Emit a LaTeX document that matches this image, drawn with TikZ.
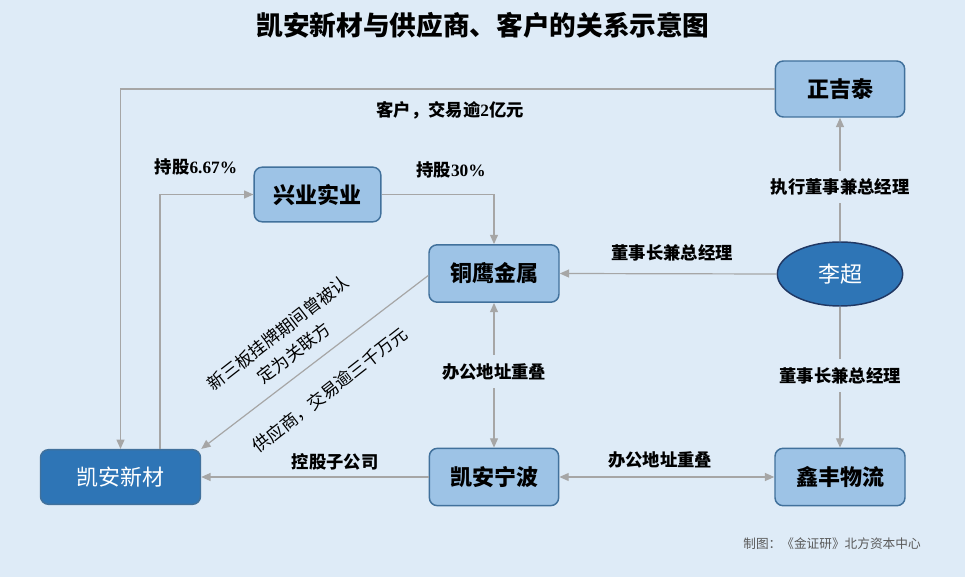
\documentclass[tikz,border=0pt]{standalone}
\usepackage{fontspec}
\setmainfont{Noto Sans CJK SC}
\newfontfamily\numfont{Liberation Serif}
\usetikzlibrary{arrows.meta,shapes.geometric}
\definecolor{bgc}{HTML}{DEEBF7}
\definecolor{lightfill}{HTML}{9DC3E6}
\definecolor{darkfill}{HTML}{2E75B6}
\definecolor{boxline}{HTML}{41719C}
\definecolor{ellline}{HTML}{203864}
\definecolor{arrc}{HTML}{A6A6A6}
\definecolor{credc}{HTML}{595959}
\begin{document}
\begin{tikzpicture}[x=0.75pt,y=-0.75pt,
  lbox/.style={draw=boxline, line width=1.1pt, fill=lightfill, rounded corners=6pt,
    font=\bfseries\fontsize{16.5}{20}\selectfont, inner sep=0pt},
  dbox/.style={lbox, fill=darkfill, text=white, font=\fontsize{16.5}{20}\selectfont},
  conn/.style={draw=arrc, line width=0.9pt, -{Triangle[length=7pt,width=6pt]}},
  bconn/.style={conn, {Triangle[length=7pt,width=6pt]}-{Triangle[length=7pt,width=6pt]}},
  lbl/.style={font=\bfseries\fontsize{13}{15}\selectfont, inner sep=0pt},
  gaplbl/.style={lbl, fill=bgc, inner xsep=2pt, inner ysep=6pt},
  rlbl/.style={font=\fontsize{13}{19}\selectfont, align=center, rotate=38, inner sep=0pt}]
\useasboundingbox (0,0) rectangle (965,577);
\fill[bgc] (0,0) rectangle (965,577);

\node[font=\bfseries\fontsize{20}{24}\selectfont] (title) at (483,25) {凯安新材与供应商、客户的关系示意图};

\node[lbox, minimum width=97pt, minimum height=42pt] (zjt) at (840,89) {正吉泰};
\node[lbox, minimum width=95pt, minimum height=41pt] (xysy) at (317.5,194.5) {兴业实业};
\node[lbox, minimum width=97.5pt, minimum height=43pt] (tyjs) at (494,273.5) {铜鹰金属};
\node[ellipse, draw=ellline, line width=1.1pt, fill=darkfill, text=white,
  font=\fontsize{16.5}{20}\selectfont, minimum width=94pt, minimum height=48pt, inner sep=0pt] (lc) at (840,274) {李超};
\node[dbox, minimum width=120pt, minimum height=41pt] (kaxc) at (120.5,477) {凯安新材};
\node[lbox, minimum width=97pt, minimum height=43pt] (kanb) at (494,477) {凯安宁波};
\node[lbox, minimum width=97.5pt, minimum height=43pt] (xfwl) at (840,477) {鑫丰物流};

\draw[conn] (zjt.west) -| (kaxc.north);
\draw[conn] ([xshift=29.6pt]kaxc.north) |- (xysy.west);
\draw[conn] (xysy.east) -| (tyjs.north);
\draw[conn] (lc.west) -- (tyjs.east);
\draw[conn] (lc.north) -- node[gaplbl, pos=0.44] (l5) {执行董事兼总经理} (zjt.south);
\draw[conn] (lc.south) -- node[gaplbl, pos=0.49] (l6) {董事长兼总经理} (xfwl.north);
\draw[bconn] (tyjs.south) -- node[gaplbl, pos=0.476] (l7) {办公地址重叠} (kanb.north);
\draw[bconn] (kanb.east) -- (xfwl.west);
\draw[conn] (kanb.west) -- (kaxc.east);
\draw[conn] ([yshift=-1.5pt]tyjs.west) -- (kaxc.north east);

\node[lbl] (l1) at (450,110) {客户，交易逾{\numfont 2}亿元};
\node[lbl] (l2) at (196,167) {持股{\numfont 6.67\%}};
\node[lbl] (l3) at (451,170) {持股{\numfont 30\%}};
\node[lbl] (l4) at (672,253) {董事长兼总经理};
\node[lbl] (l8) at (660,460) {办公地址重叠};
\node[lbl] (l9) at (335,462) {控股子公司};
\node[rlbl] (l10) at (286,343) {新三板挂牌期间曾被认\\定为关联方};
\node[rlbl] (l11) at (330,390) {供应商，交易逾三千万元};
\node[font=\fontsize{9.5}{11}\selectfont, text=credc] (cr) at (832,544) {制图：《金证研》北方资本中心};
\end{tikzpicture}
\end{document}
